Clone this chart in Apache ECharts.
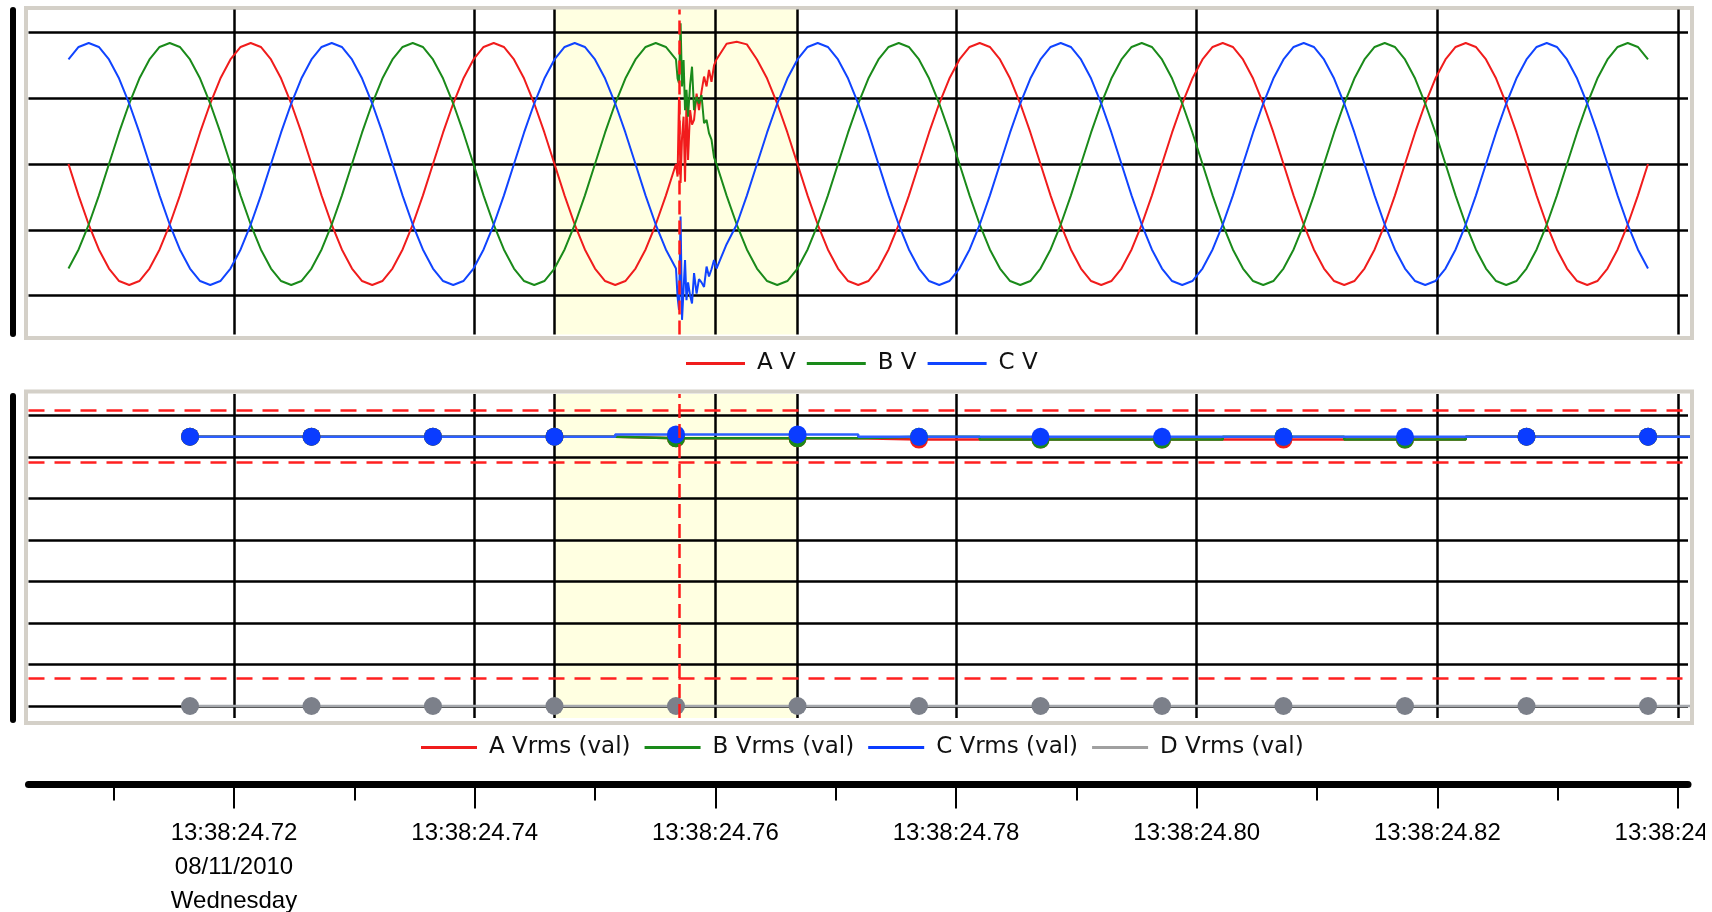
<!DOCTYPE html>
<html>
<head>
<meta charset="utf-8">
<script src="https://cdn.jsdelivr.net/npm/echarts@6/dist/echarts.min.js"></script>
<style>
  html, body { margin: 0; padding: 0; background: #fff; }
  #main { width: 1705px; height: 912px; }
</style>
</head>
<body>
<div id="main"></div>
<script>
// time axis, seconds past 13:38
const xMin = 24.70292, xMax = 24.84083;
const majorTicks = [24.72, 24.74, 24.76, 24.78, 24.80, 24.82, 24.84];
const minorTicks = [24.71, 24.73, 24.75, 24.77, 24.79, 24.81, 24.83];
const tickLabels = ['13:38:24.72\n08/11/2010\nWednesday', '13:38:24.74', '13:38:24.76',
  '13:38:24.78', '13:38:24.80', '13:38:24.82', '13:38:24.84'];
const selWindow = [24.74663, 24.76683];
const cursorT = 24.757;

// waveform samples (V), one sample every waveDt seconds from waveT0
const waveT0 = 24.706242, waveDt = 0.00084143;
const waveA = [
  0,-48,-92,-130,-159,-178,-184,-178,-159,-130,-92,-48,0,48,92,130,159,178,184,178,159,130,92,48,
  0,-48,-92,-130,-159,-178,-184,-178,-159,-130,-92,-48,0,48,92,130,159,178,184,178,159,130,92,48,
  0,-48,-92,-130,-159,-178,-184,-178,-159,-130,-92,-48,0,48,92,130,159,183,186,182,159,130,92,48,
  0,-48,-92,-130,-159,-178,-184,-178,-159,-130,-92,-48,0,48,92,130,159,178,184,178,159,130,92,48,
  0,-48,-92,-130,-159,-178,-184,-178,-159,-130,-92,-48,0,48,92,130,159,178,184,178,159,130,92,48,
  0,-48,-92,-130,-159,-178,-184,-178,-159,-130,-92,-48,0,48,92,130,159,178,184,178,159,130,92,48,
  0,-48,-92,-130,-159,-178,-184,-178,-159,-130,-92,-48,0
];
const waveB = [
  -159,-130,-92,-48,0,48,92,130,159,178,184,178,159,130,92,48,0,-48,-92,-130,-159,-178,-184,-178,
  -159,-130,-92,-48,0,48,92,130,159,178,184,178,159,130,92,48,0,-48,-92,-130,-159,-178,-184,-178,
  -159,-130,-92,-48,0,48,92,130,159,178,184,178,159,130,92,48,0,-48,-92,-130,-159,-178,-184,-178,
  -159,-130,-92,-48,0,48,92,130,159,178,184,178,159,130,92,48,0,-48,-92,-130,-159,-178,-184,-178,
  -159,-130,-92,-48,0,48,92,130,159,178,184,178,159,130,92,48,0,-48,-92,-130,-159,-178,-184,-178,
  -159,-130,-92,-48,0,48,92,130,159,178,184,178,159,130,92,48,0,-48,-92,-130,-159,-178,-184,-178,
  -159,-130,-92,-48,0,48,92,130,159,178,184,178,159
];
const waveC = [
  159,178,184,178,159,130,92,48,0,-48,-92,-130,-159,-178,-184,-178,-159,-130,-92,-48,0,48,92,130,
  159,178,184,178,159,130,92,48,0,-48,-92,-130,-159,-178,-184,-178,-159,-130,-92,-48,0,48,92,130,
  159,178,184,178,159,130,92,48,0,-48,-92,-130,-159,-178,-184,-178,-159,-122,-92,-48,0,48,92,130,
  159,178,184,178,159,130,92,48,0,-48,-92,-130,-159,-178,-184,-178,-159,-130,-92,-48,0,48,92,130,
  159,178,184,178,159,130,92,48,0,-48,-92,-130,-159,-178,-184,-178,-159,-130,-92,-48,0,48,92,130,
  159,178,184,178,159,130,92,48,0,-48,-92,-130,-159,-178,-184,-178,-159,-130,-92,-48,0,48,92,130,
  159,178,184,178,159,130,92,48,0,-48,-92,-130,-159
];

// the disturbance, sampled finer
const faultT = [24.75686, 24.75698, 24.75711, 24.75723, 24.75736, 24.75748, 24.75760, 24.75773,
  24.75790, 24.75806, 24.75823, 24.75844, 24.75864, 24.75885, 24.75906, 24.75927, 24.75947,
  24.75968, 24.75989];
const faultA = [-19, 102, -29, 40, 72, -27, 97, 6, 82, 60, 67, 107, 82, 110, 133, 118, 143, 125, 150];
const faultB = [130, 123, 214, 118, 158, 82, 113, 72, 120, 148, 82, 102, 92, 105, 62, 67, 47, 37, 10];
const faultC = [-202, -222, -80, -237, -190, -146, -207, -180, -200, -212, -166, -197, -175, -180,
  -187, -156, -171, -160, -146];
const waveGrid = [-200, -100, 0, 100, 200];

// half-cycle rms values (V)
const rmsT = [24.71634, 24.72644, 24.73653, 24.74663, 24.75673, 24.76683, 24.77692,
  24.78702, 24.79712, 24.80721, 24.81731, 24.82741, 24.83751, 24.84760];
const rmsA = [129.8, 129.8, 129.8, 129.8, 129.0, 129.0, 128.4, 128.4, 128.4, 128.4, 128.4, 129.8, 129.8, 129.8];
const rmsB = [129.8, 129.8, 129.8, 129.8, 129.0, 129.0, 129.8, 128.4, 128.4, 129.8, 128.4, 129.8, 129.8, 129.8];
const rmsC = [129.8, 129.8, 129.8, 129.8, 130.9, 130.9, 129.7, 129.7, 129.7, 129.7, 129.7, 129.8, 129.8, 129.8];
const rmsD = [0, 0, 0, 0, 0, 0, 0, 0, 0, 0, 0, 0, 0, 0];
const rmsGrid = [0, 20, 40, 60, 80, 100, 120, 140];
const rmsLimits = [142.5, 117.5, 13.5];

const RED = '#f01c1c', GREEN = '#1a8a1a', BLUE = '#1044ff';

function waveData(base, fault) {
  const out = [];
  const f0 = faultT[0], f1 = faultT[faultT.length - 1];
  base.forEach((v, i) => {
    const t = waveT0 + i * waveDt;
    if (t < f0) out.push([t, v]);
  });
  faultT.forEach((t, i) => out.push([t, fault[i]]));
  base.forEach((v, i) => {
    const t = waveT0 + i * waveDt;
    if (t > f1) out.push([t, v]);
  });
  return out;
}

// invisible series that only carry shading / grid lines
function helper(idx, z, marker) {
  return Object.assign({
    type: 'line', xAxisIndex: idx, yAxisIndex: idx, data: [[xMin, 0]],
    showSymbol: false, silent: true, lineStyle: { opacity: 0 }, z: z
  }, marker);
}
function lines(data, style, z) {
  return {
    markLine: {
      silent: true, symbol: ['none', 'none'], label: { show: false }, animation: false,
      precision: 6, z: z, lineStyle: style, emphasis: { disabled: true }, data: data
    }
  };
}
const vLines = majorTicks.concat(selWindow).map(v => ({ xAxis: v }));
const blackLine = { color: '#000', width: 2.5, type: 'solid' };
const shade = {
  markArea: {
    silent: true, z: 0, itemStyle: { color: '#ffffe1' },
    data: [[{ xAxis: selWindow[0] }, { xAxis: selWindow[1] }]]
  }
};
const cursor = lines([{ xAxis: cursorT }], { color: '#ff1a1a', width: 2.5, type: [14, 6] }, 6);

let myChart = echarts.init(document.getElementById('main'));
myChart.setOption({
  animation: false,
  backgroundColor: '#fff',
  grid: [
    { left: 28.5, top: 9.5, width: 1659.5, height: 325, outerBoundsMode: 'none' },
    { left: 28.5, top: 394, width: 1659.5, height: 324, outerBoundsMode: 'none' },
    { left: 28.5, top: 783.5, width: 1659.5, height: 1, outerBoundsMode: 'none' }
  ],
  xAxis: [
    { gridIndex: 0, type: 'value', min: xMin, max: xMax, show: false },
    { gridIndex: 1, type: 'value', min: xMin, max: xMax, show: false },
    {
      gridIndex: 2, type: 'value', min: xMin, max: xMax, position: 'bottom',
      axisLine: { show: true, lineStyle: { color: '#000', width: 7, cap: 'round' } },
      axisTick: { show: true, customValues: majorTicks, length: 24, lineStyle: { color: '#000', width: 2 } },
      axisLabel: {
        show: true, customValues: majorTicks, margin: 32,
        fontFamily: 'Liberation Sans', fontSize: 24, lineHeight: 34, color: '#000',
        formatter: (v) => tickLabels[majorTicks.findIndex(m => Math.abs(m - v) < 1e-6)] || ''
      },
      splitLine: { show: false }
    },
    {
      gridIndex: 2, type: 'value', min: xMin, max: xMax, position: 'bottom',
      axisLine: { show: false },
      axisTick: { show: true, customValues: minorTicks, length: 16, lineStyle: { color: '#000', width: 2 } },
      axisLabel: { show: false },
      splitLine: { show: false }
    }
  ],
  yAxis: [
    { gridIndex: 0, type: 'value', min: -259.3, max: 235, show: false },
    { gridIndex: 1, type: 'value', min: -5.78, max: 150.36, show: false },
    { gridIndex: 2, type: 'value', min: 0, max: 1, show: false }
  ],
  legend: [
    {
      data: ['A V', 'B V', 'C V'], left: 686, top: 352, padding: 0,
      icon: 'rect', itemWidth: 59, itemHeight: 3, itemGap: 11, selectedMode: false,
      textStyle: { fontFamily: 'DejaVu Sans', fontSize: 23, color: '#111', padding: [0, 0, 0, 7] }
    },
    {
      data: ['A Vrms (val)', 'B Vrms (val)', 'C Vrms (val)', { name: 'D Vrms (val)', itemStyle: { color: '#a0a0a0' } }],
      left: 421, top: 736, padding: 0,
      icon: 'rect', itemWidth: 56, itemHeight: 3, itemGap: 14, selectedMode: false,
      textStyle: { fontFamily: 'DejaVu Sans', fontSize: 23, color: '#111', padding: [0, 0, 0, 7] }
    }
  ],
  graphic: [
    { type: 'rect', silent: true, shape: { x: 26, y: 8, width: 1666, height: 330 }, style: { fill: 'none', stroke: '#d4d0c8', lineWidth: 4 } },
    { type: 'rect', silent: true, shape: { x: 26, y: 391.5, width: 1666, height: 331.5 }, style: { fill: 'none', stroke: '#d4d0c8', lineWidth: 4 } },
    { type: 'line', silent: true, shape: { x1: 13, y1: 10, x2: 13, y2: 334 }, style: { stroke: '#000', lineWidth: 6, lineCap: 'round' } },
    { type: 'line', silent: true, shape: { x1: 13, y1: 396, x2: 13, y2: 720 }, style: { stroke: '#000', lineWidth: 6, lineCap: 'round' } }
  ],
  series: [
    // top panel: instantaneous voltages
    helper(0, 0, shade),
    helper(0, 1, lines(vLines.concat(waveGrid.map(v => ({ yAxis: v }))), blackLine, 1)),
    { name: 'A V', type: 'line', xAxisIndex: 0, yAxisIndex: 0, data: waveData(waveA, faultA),
      showSymbol: false, silent: true, color: RED, lineStyle: { width: 2 }, z: 3 },
    { name: 'B V', type: 'line', xAxisIndex: 0, yAxisIndex: 0, data: waveData(waveB, faultB),
      showSymbol: false, silent: true, color: GREEN, lineStyle: { width: 2 }, z: 3 },
    { name: 'C V', type: 'line', xAxisIndex: 0, yAxisIndex: 0, data: waveData(waveC, faultC),
      showSymbol: false, silent: true, color: BLUE, lineStyle: { width: 2 }, z: 3 },
    helper(0, 5, cursor),

    // bottom panel: rms values
    helper(1, 0, shade),
    helper(1, 1, lines(vLines.concat(rmsGrid.map(v => ({ yAxis: v }))), blackLine, 1)),
    helper(1, 2, lines(rmsLimits.map(v => ({ yAxis: v })), { color: '#ff2020', width: 2.5, type: [16, 10] }, 2)),
    { name: 'A Vrms (val)', type: 'line', step: 'middle', xAxisIndex: 1, yAxisIndex: 1,
      data: rmsT.map((t, i) => [t, rmsA[i]]), symbol: 'circle', symbolSize: 18, silent: true,
      color: RED, lineStyle: { width: 2.5 }, z: 3 },
    { name: 'B Vrms (val)', type: 'line', step: 'middle', xAxisIndex: 1, yAxisIndex: 1,
      data: rmsT.map((t, i) => [t, rmsB[i]]), symbol: 'circle', symbolSize: 18, silent: true,
      color: GREEN, lineStyle: { width: 2.5 }, z: 3 },
    { name: 'C Vrms (val)', type: 'line', step: 'middle', xAxisIndex: 1, yAxisIndex: 1,
      data: rmsT.map((t, i) => [t, rmsC[i]]), symbol: 'circle', symbolSize: 18, silent: true,
      itemStyle: { color: '#0a3cff' }, lineStyle: { width: 2.5, color: '#2c5fff' }, z: 3 },
    { name: 'D Vrms (val)', type: 'line', step: 'middle', xAxisIndex: 1, yAxisIndex: 1,
      data: rmsT.map((t, i) => [t, rmsD[i]]), symbol: 'circle', symbolSize: 18, silent: true,
      itemStyle: { color: '#7c808a' }, lineStyle: { width: 2.5, color: '#a5a8ad' }, z: 3 },
    helper(1, 5, cursor)
  ]
});
</script>
</body>
</html>
